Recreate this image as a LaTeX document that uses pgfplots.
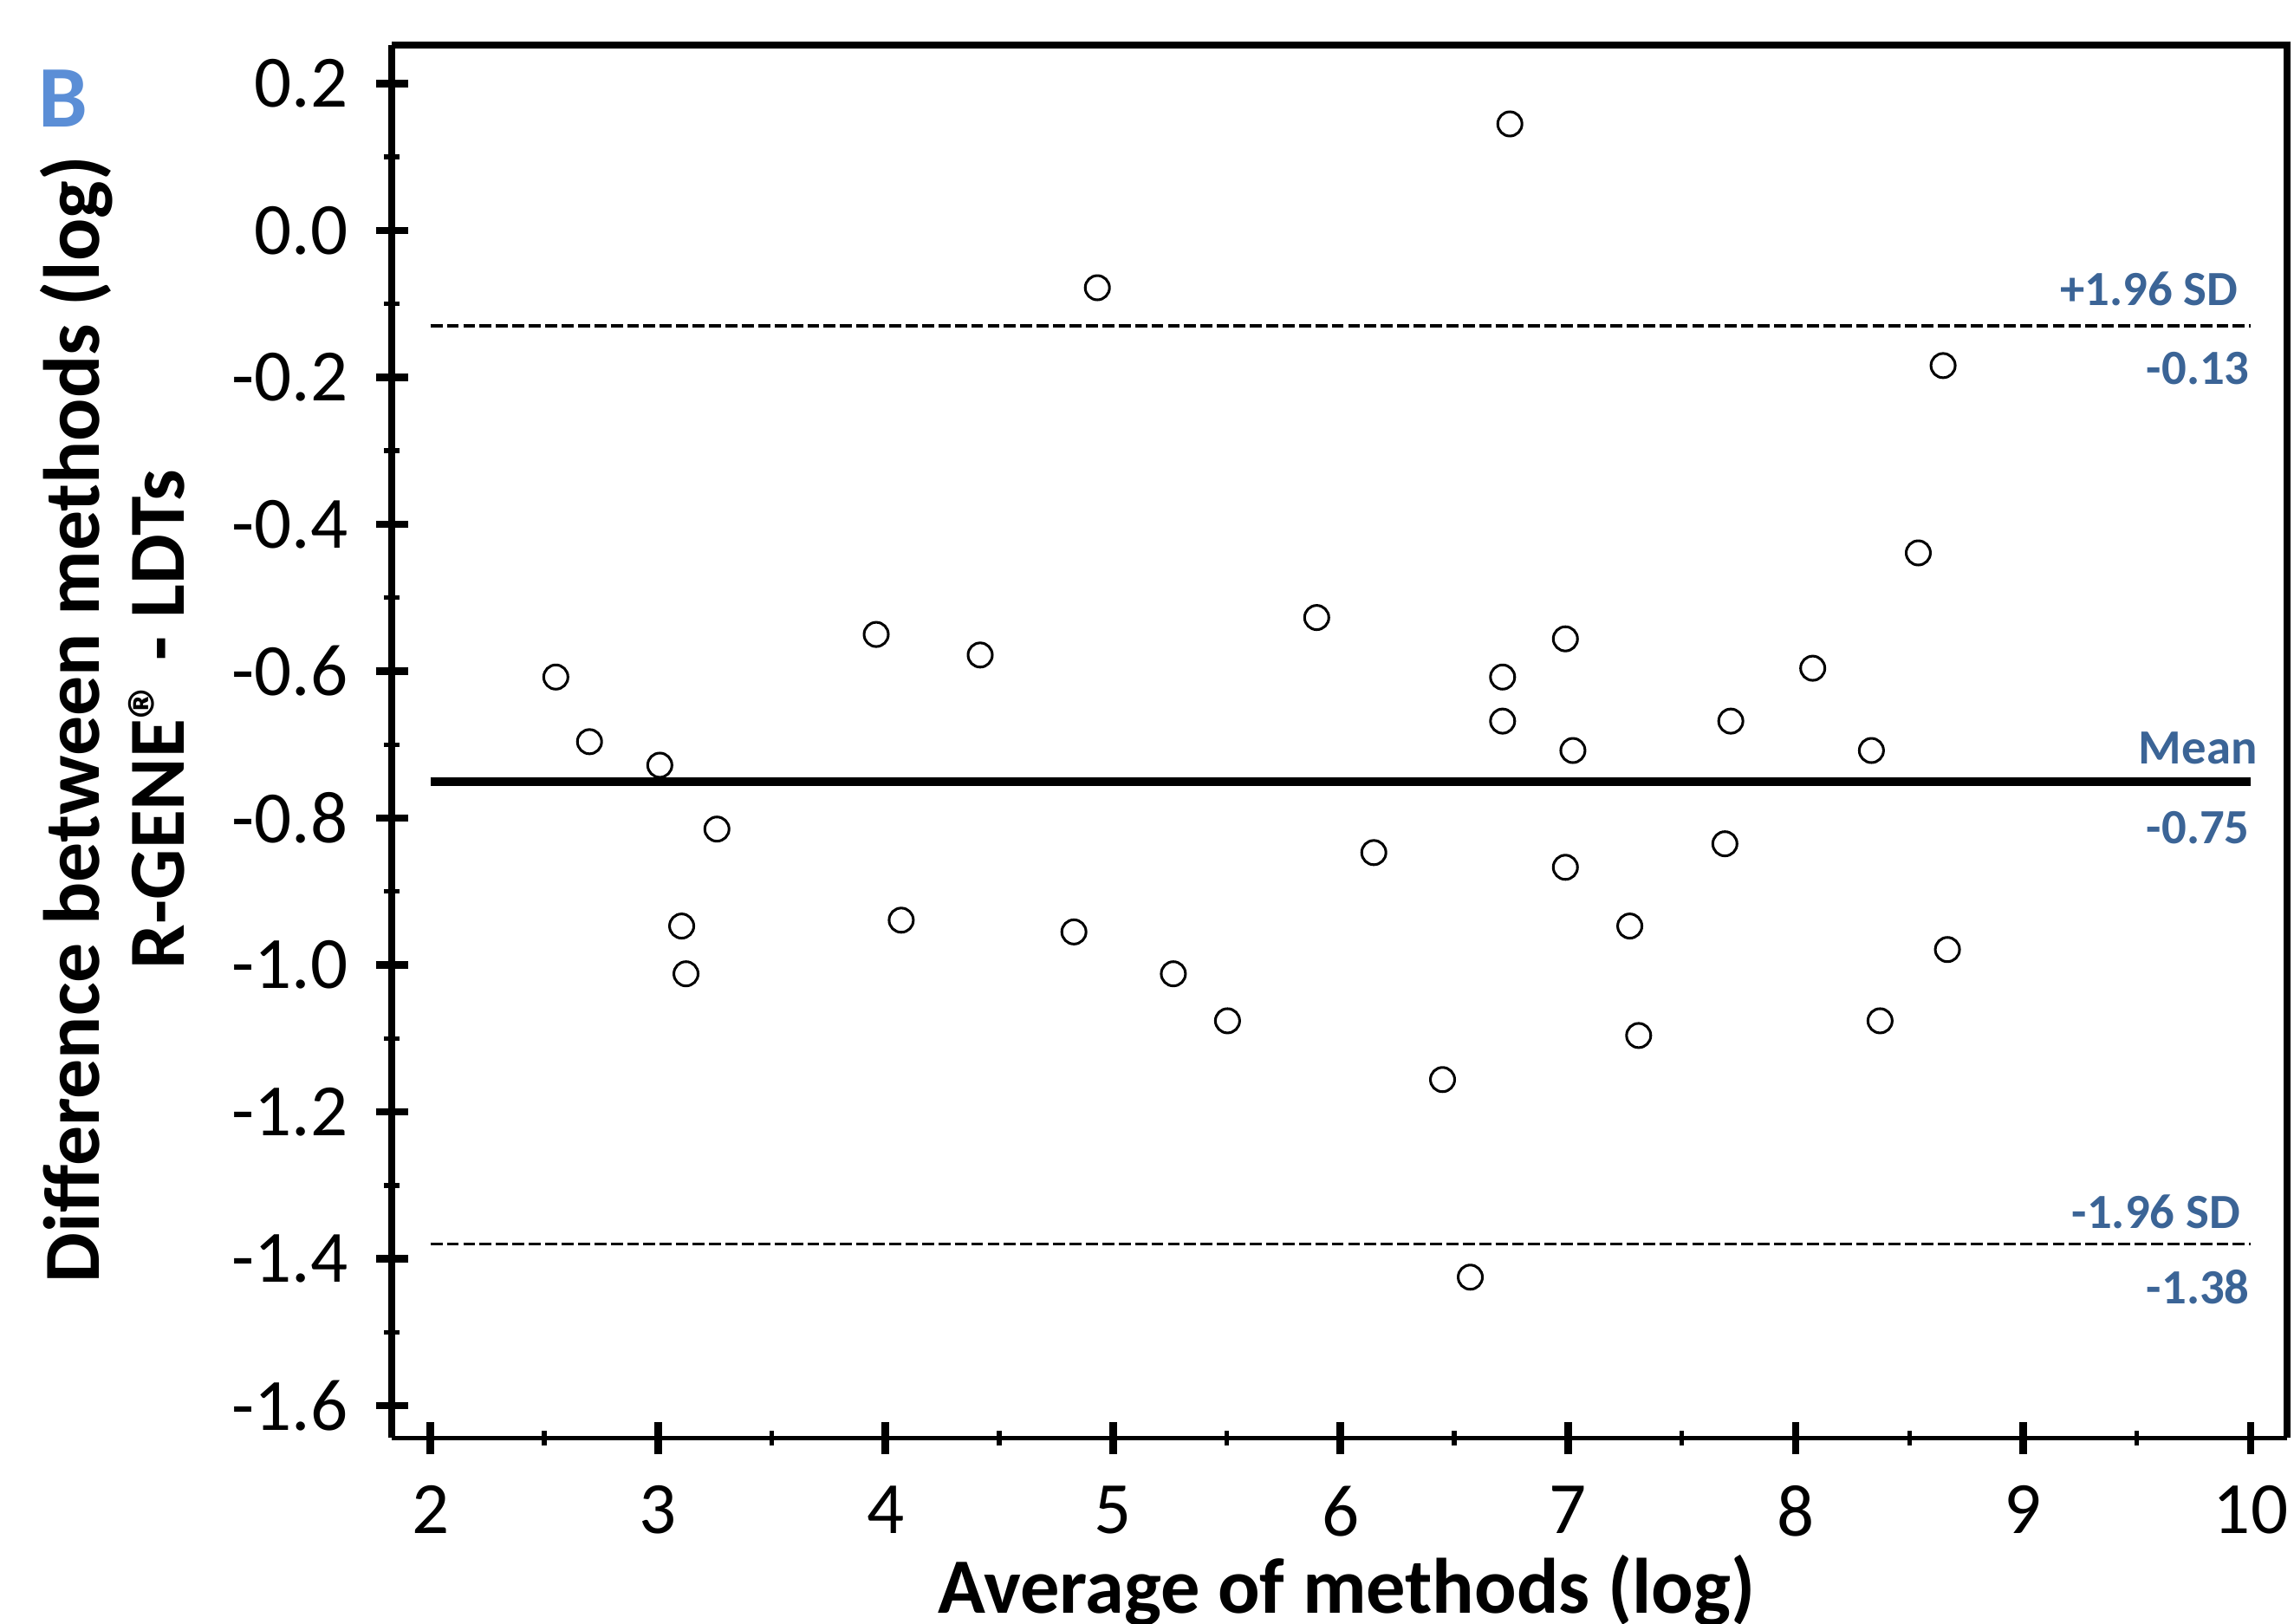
\documentclass[border=0pt]{standalone}
\usepackage{fontspec}
\setmainfont{Carlito}
\usepackage{pgfplots}
\pgfplotsset{compat=1.18}
\definecolor{sdblue}{RGB}{59,100,150}
\definecolor{panelblue}{RGB}{91,142,214}

\pgfplotstableread{
avg diff
6.744 0.145
4.931 -0.078
8.648 -0.184
8.539 -0.439
5.895 -0.527
3.959 -0.550
6.988 -0.556
4.416 -0.578
2.551 -0.608
6.712 -0.608
8.075 -0.596
6.712 -0.668
7.715 -0.668
2.699 -0.696
3.008 -0.728
7.021 -0.708
8.333 -0.708
3.259 -0.815
6.146 -0.847
7.689 -0.835
6.988 -0.867
3.104 -0.947
4.069 -0.939
4.828 -0.955
7.271 -0.947
3.123 -1.012
5.265 -1.012
8.667 -0.979
5.503 -1.076
8.371 -1.076
7.310 -1.096
6.448 -1.156
6.570 -1.425
}\blandaltman

\begin{document}
\begin{tikzpicture}
\begin{axis}[
    scale only axis,
    width=323.8pt, height=238pt,
    xmin=1.830, xmax=10.158,
    ymin=-1.644, ymax=0.252,
    axis lines=left,
    axis line style={-},
    x axis line style={line width=0.75pt},
    y axis line style={line width=1.2pt},
    xtick={2,3,4,5,6,7,8,9,10},
    ytick={-1.6,-1.4,-1.2,-1.0,-0.8,-0.6,-0.4,-0.2,0.0,0.2},
    yticklabels={-1.6,-1.4,-1.2,-1.0,-0.8,-0.6,-0.4,-0.2,0.0,0.2},
    minor x tick num=1,
    minor y tick num=1,
    major tick length=5.5pt,
    minor tick length=2.6pt,
    major tick style={black, line width=1.3pt},
    minor tick style={black, line width=0.8pt},
    tick label style={font=\fontsize{12.6}{15}\selectfont},
    /pgf/number format/assume math mode=true,
    xticklabel shift=1.9pt,
    yticklabel shift=1.2pt,
    clip=false,
]

% reference lines: mean and limits of agreement
\addplot[black, line width=0.5pt, dash pattern=on 2.05pt off 0.75pt] coordinates {(2,-0.13) (10,-0.13)};
\addplot[black, line width=1.5pt] coordinates {(2,-0.75) (10,-0.75)};
\addplot[black, line width=0.5pt, dash pattern=on 2.05pt off 0.75pt] coordinates {(2,-1.38) (10,-1.38)};

\addplot[only marks, mark=o, mark size=2.07pt, mark options={black, line width=0.45pt}]
    table[x=avg, y=diff] {\blandaltman};

% top and right frame
\draw[line width=1.2pt] (rel axis cs:0,1) -- (rel axis cs:1,1) -- (rel axis cs:1,0);

% line labels
\begin{scope}[every node/.style={inner sep=0pt, text=sdblue, font=\bfseries\fontsize{8.4}{10}\selectfont}]
\node[anchor=base east, xshift=-2pt, yshift=3.5pt] at (axis cs:10,-0.13) {+1.96 SD};
\node[anchor=north east, yshift=-4.25pt] at (axis cs:10,-0.13) {-0.13};
\node[anchor=base east, xshift=1.3pt, yshift=3pt] at (axis cs:10,-0.75) {Mean};
\node[anchor=north east, yshift=-5pt] at (axis cs:10,-0.75) {-0.75};
\node[anchor=base east, xshift=-1.6pt, yshift=2.75pt] at (axis cs:10,-1.38) {-1.96 SD};
\node[anchor=north east, yshift=-4.25pt] at (axis cs:10,-1.38) {-1.38};
\end{scope}

% axis titles
\node[xshift=-35.2pt, rotate=90, anchor=south, align=center, inner sep=0pt,
      font=\bfseries\fontsize{13.6}{14.5}\selectfont]
    at (rel axis cs:0,0.516) {Difference between methods (log)\\R-GENE® - LDTs};
\node[anchor=base, yshift=-30pt, inner sep=0pt, font=\bfseries\fontsize{13.4}{15}\selectfont]
    at (rel axis cs:0.504,0) {Average of methods (log)};

% panel letter
\node[anchor=base west, inner sep=0pt, xshift=-60.6pt, yshift=-14pt, text=panelblue,
      font=\bfseries\fontsize{15}{18}\selectfont] at (rel axis cs:0,1) {B};
\end{axis}
\pgfresetboundingbox
\path[use as bounding box] (-66.95pt,-31.75pt) rectangle (325.05pt,245.75pt);
\end{tikzpicture}
\end{document}
